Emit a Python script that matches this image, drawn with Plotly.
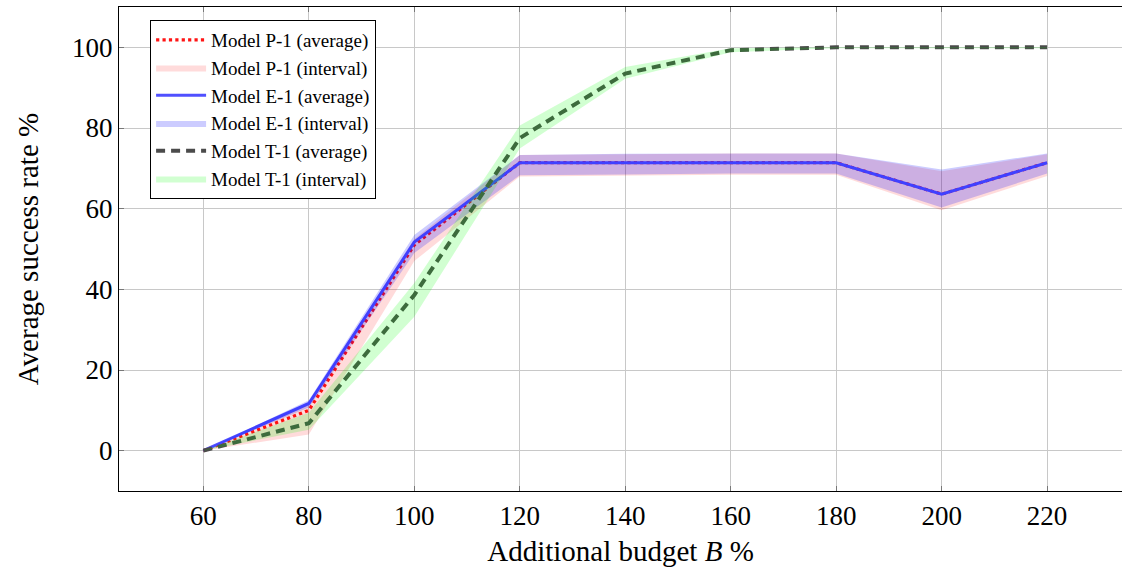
import plotly.graph_objects as go

budget = [60, 80, 100, 120, 140, 160, 180, 200, 220]

p_avg = [0, 10.0, 51.0, 71.4, 71.4, 71.4, 71.4, 63.6, 71.4]
p_low = [0, 4.0, 47.0, 68.0, 68.2, 68.4, 68.4, 59.6, 68.1]
p_high = [0, 12.0, 52.5, 73.3, 73.5, 73.7, 73.7, 69.3, 73.5]

e_avg = [0, 11.7, 51.7, 71.4, 71.4, 71.4, 71.4, 63.6, 71.4]
e_low = [0, 10.7, 49.0, 68.3, 68.5, 68.7, 68.7, 60.3, 68.7]
e_high = [0, 12.5, 53.5, 73.3, 73.6, 73.7, 73.7, 69.7, 73.7]

t_avg = [0, 6.8, 38.6, 77.5, 93.5, 99.3, 100, 100, 100]
t_low = [0, 5.2, 33.2, 74.9, 92.2, 98.8, 99.8, 99.8, 99.8]
t_high = [0, 9.4, 41.6, 80.6, 95.1, 99.8, 100, 100, 100]

x_ticks = [60, 80, 100, 120, 140, 160, 180, 200, 220]
y_ticks = [0, 20, 40, 60, 80, 100]

FONT = "Liberation Serif"

fig = go.Figure()


def band(lo, hi, name, color):
    return go.Scatter(
        x=budget + budget[::-1],
        y=hi + lo[::-1],
        fill="toself",
        fillcolor=color,
        line=dict(width=0, color="rgba(0,0,0,0)"),
        mode="lines",
        name=name,
        hoverinfo="skip",
    )


fig.add_trace(go.Scatter(x=budget, y=p_avg, mode="lines", name="Model P-1 (average)",
                         line=dict(color="rgb(255,20,20)", width=3.2, dash="dot")))
fig.add_trace(band(p_low, p_high, "Model P-1 (interval)", "rgba(255,0,0,0.14)"))
fig.add_trace(go.Scatter(x=budget, y=e_avg, mode="lines", name="Model E-1 (average)",
                         line=dict(color="rgb(80,80,255)", width=3)))
fig.add_trace(band(e_low, e_high, "Model E-1 (interval)", "rgba(0,0,255,0.2)"))
fig.add_trace(go.Scatter(x=budget, y=t_avg, mode="lines", name="Model T-1 (average)",
                         line=dict(color="rgb(75,75,75)", width=4, dash="9px,6px")))
fig.add_trace(band(t_low, t_high, "Model T-1 (interval)", "rgba(0,255,0,0.18)"))

fig.update_layout(
    width=1122,
    height=571,
    autosize=False,
    margin=dict(l=119, r=0, t=7, b=80, autoexpand=False),
    plot_bgcolor="white",
    paper_bgcolor="white",
    font=dict(family=FONT, color="black", size=26),
    showlegend=True,
    legend=dict(
        x=0.031, y=0.973, xanchor="left", yanchor="top",
        bgcolor="white", bordercolor="black", borderwidth=1,
        font=dict(family=FONT, size=19),
        tracegroupgap=0,
        itemwidth=50,
    ),
)

fig.update_xaxes(
    range=[44, 234.2],
    tickvals=x_ticks,
    ticktext=[str(v) for v in x_ticks],
    showgrid=True, gridcolor="rgb(200,200,200)", gridwidth=1,
    zeroline=False,
    showline=True, linecolor="black", linewidth=1.2, mirror="ticks",
    ticks="inside", ticklen=5, tickcolor="rgb(120,120,120)",
    tickfont=dict(size=27, family=FONT),
    title=dict(text="Additional budget <i>B</i> %", font=dict(size=29, family=FONT), standoff=11),
)
fig.update_yaxes(
    range=[-10, 110],
    tickvals=y_ticks,
    ticktext=[str(v) for v in y_ticks],
    showgrid=True, gridcolor="rgb(200,200,200)", gridwidth=1,
    zeroline=False,
    showline=True, linecolor="black", linewidth=1.2, mirror=False,
    ticks="inside", ticklen=5, tickcolor="rgb(120,120,120)",
    tickfont=dict(size=27, family=FONT),
    title=dict(text="Average success rate %", font=dict(size=29, family=FONT), standoff=24),
)

fig.write_html(
    "out.html",
    config={"displayModeBar": False},
    post_script="document.body.style.margin='0';document.body.style.overflow='hidden';",
)
